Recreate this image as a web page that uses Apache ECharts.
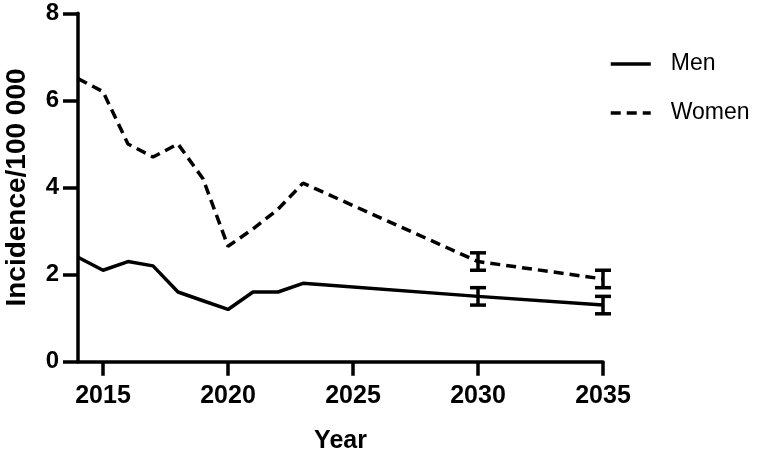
<!DOCTYPE html>
<html>
<head>
<meta charset="utf-8">
<script src="https://cdn.jsdelivr.net/npm/echarts@6/dist/echarts.min.js"></script>
<style>
  html, body { margin: 0; padding: 0; background: #ffffff; }
  #chart { width: 770px; height: 456px; }
</style>
</head>
<body>
<div id="chart"></div>
<script>
const years = [2014, 2015, 2016, 2017, 2018, 2019, 2020, 2021, 2022, 2023, 2030, 2035];
const menValues = [2.4, 2.1, 2.3, 2.2, 1.6, 1.4, 1.2, 1.6, 1.6, 1.8, 1.5, 1.3];
const womenValues = [6.5, 6.2, 5.0, 4.7, 5.0, 4.2, 2.65, 3.05, 3.5, 4.1, 2.3, 1.9];
const errYears = [2030, 2035];
const menLow = [1.3, 1.1];
const menHigh = [1.7, 1.5];
const womenLow = [2.1, 1.7];
const womenHigh = [2.5, 2.1];
const xTicks = [2015, 2020, 2025, 2030, 2035];
const yTicks = [0, 2, 4, 6, 8];

const FONT = '"Liberation Sans", Arial, sans-serif';
const menData = years.map((y, i) => [y, menValues[i]]);
const womenData = years.map((y, i) => [y, womenValues[i]]);
const errData = errYears.map((y, i) => [y, menLow[i], menHigh[i]])
  .concat(errYears.map((y, i) => [y, womenLow[i], womenHigh[i]]));

function renderErr(params, api) {
  const x = api.value(0);
  const lo = api.coord([x, api.value(1)]);
  const hi = api.coord([x, api.value(2)]);
  const half = 8;
  const style = { stroke: '#000', lineWidth: 3.5, fill: null };
  return {
    type: 'group',
    children: [
      { type: 'line', shape: { x1: lo[0], y1: lo[1], x2: hi[0], y2: hi[1] }, style: style },
      { type: 'line', shape: { x1: lo[0] - half, y1: lo[1], x2: lo[0] + half, y2: lo[1] }, style: style },
      { type: 'line', shape: { x1: hi[0] - half, y1: hi[1], x2: hi[0] + half, y2: hi[1] }, style: style }
    ]
  };
}

const chart = echarts.init(document.getElementById('chart'), null, { renderer: 'canvas' });
chart.setOption({
  animation: false,
  backgroundColor: '#ffffff',
  grid: { left: 78, right: 167, top: 13.3, bottom: 94.3, containLabel: false, outerBoundsMode: 'none' },
  legend: {
    orient: 'vertical',
    left: 609,
    top: 52,
    padding: 0,
    itemWidth: 40,
    itemHeight: 14,
    itemGap: 25,
    itemStyle: { opacity: 0 },
    lineStyle: { width: 3.5 },
    textStyle: { fontFamily: FONT, fontSize: 23, color: '#000', padding: [0, 0, 0, 15], lineHeight: 24 },
    data: ['Men', 'Women']
  },
  xAxis: {
    type: 'value',
    min: 2014,
    max: 2035,
    name: 'Year',
    nameLocation: 'middle',
    nameGap: 67,
    nameTextStyle: { fontFamily: FONT, fontSize: 25, fontWeight: 'bold', color: '#000' },
    axisLine: { show: true, onZero: false, lineStyle: { color: '#000', width: 3.5 } },
    axisTick: { show: true, length: 14, lineStyle: { color: '#000', width: 3.5 }, customValues: xTicks },
    axisLabel: {
      customValues: xTicks, margin: 22, fontFamily: FONT, fontSize: 25, fontWeight: 'bold', color: '#000',
      formatter: v => String(v)
    },
    splitLine: { show: false }
  },
  yAxis: {
    type: 'value',
    min: 0,
    max: 8,
    interval: 2,
    name: 'Incidence/100 000',
    nameLocation: 'middle',
    nameGap: 47,
    nameRotate: 90,
    nameTextStyle: { fontFamily: FONT, fontSize: 28, fontWeight: 'bold', color: '#000' },
    axisLine: { show: true, lineStyle: { color: '#000', width: 3.5 } },
    axisTick: { show: true, length: 15, lineStyle: { color: '#000', width: 3.5 } },
    axisLabel: { margin: 19, fontFamily: FONT, fontSize: 24, fontWeight: 'bold', color: '#000' },
    splitLine: { show: false }
  },
  series: [
    {
      name: 'Men', type: 'line', data: menData, symbol: 'none', showSymbol: false,
      lineStyle: { color: '#000', width: 3.5, type: 'solid' },
      itemStyle: { color: '#000' }, z: 3
    },
    {
      name: 'Women', type: 'line', data: womenData, symbol: 'none', showSymbol: false,
      lineStyle: { color: '#000', width: 3.5, type: [10, 6] },
      itemStyle: { color: '#000' }, z: 3
    },
    {
      name: 'err', type: 'custom', data: errData, renderItem: renderErr, z: 4,
      encode: { x: 0, y: [1, 2] }
    }
  ]
});
</script>
</body>
</html>
